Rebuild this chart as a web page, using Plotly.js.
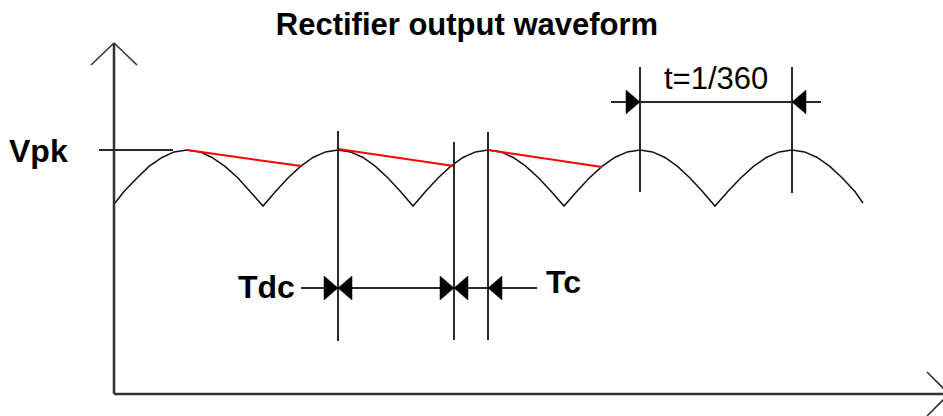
<!DOCTYPE html>
<html>
<head>
<meta charset="utf-8">
<script src="https://cdn.plot.ly/plotly-3.0.1.min.js"></script>
<style>html,body{margin:0;padding:0;background:#fff;}#chart{width:943px;height:416px;}</style>
</head>
<body>
<div id="chart"></div>
<script>
// ---- data (diagram units = reference pixels, y downward) ----
const waveX = [115,124,137,149,162,174,187,
  200,212,225,238,250,263,
  275.5,288,300.5,313,325.5,338,
  350.5,363,375.5,388,400.5,413,
  425.5,438,450.5,463,475.5,488,
  500.7,513.3,526,538.7,551.3,564,
  576.7,589.3,602,614.7,627.3,640,
  652.5,665,677.5,690,702.5,715,
  727.8,740.7,753.5,766.3,779.2,792,
  804.6,817.2,829.8,842.3,854.9,863];
const waveY = [203,191.5,178,166.4,157.5,151.9,150,
  151.9,157.5,166.4,178,191.5,206,
  191.5,178,166.4,157.5,151.9,150,
  151.9,157.5,166.4,178,191.5,206,
  191.5,178,166.4,157.5,151.9,150,
  151.9,157.5,166.4,178,191.5,206,
  191.5,178,166.4,157.5,151.9,150,
  151.9,157.5,166.4,178,191.5,206,
  191.5,178,166.4,157.5,151.9,150,
  151.9,157.5,166.4,178,191.5,203];
// capacitor discharge (red) segments
const rippleX = [187,301,null,338,454,null,488,602];
const rippleY = [150,166,null,149,166,null,150,167];
// vertical marker lines: x, top, bottom
const markerX = [338,454,488,640,792];
const markerTop = [131,142,132,67,67];
const markerBottom = [341,340,340,192,193];
// dimension lines: x0, x1, y
const dimX0 = [301,611];
const dimX1 = [537,821];
const dimY = [288,102];
// arrowheads: tip x, tip y, direction (+1 points right, -1 points left)
const arrowTipX = [338,338,454,454,488,640,792];
const arrowTipY = [288,288,288,288,288,102,102];
const arrowDir = [1,-1,1,-1,-1,1,-1];
// axes
const axisOrigin = [114,394];
const axisTopY = 43;
const axisRightX = 949;
const vpkLevel = 150;
const vpkLineX = [99,173];
// labels
const labelText = ['Vpk','Tdc','Tc','t=1/360'];
const labelX = [38,266,563,716];
const labelY = [151,287,282,78];
const titleText = 'Rectifier output waveform';

// ---- styles ----
const axisColor = '#333333';
const lineColor = '#2a2a2a';
const font = 'Liberation Sans, Arial, sans-serif';

const shapes = [];
function seg(x0,y0,x1,y1,w,c){shapes.push({type:'line',xref:'x',yref:'y',x0:x0,y0:y0,x1:x1,y1:y1,line:{color:c,width:w}});}
// axes with arrows
seg(axisOrigin[0],axisTopY,axisOrigin[0],axisOrigin[1],2.5,axisColor);
seg(axisOrigin[0],axisOrigin[1],axisRightX,axisOrigin[1],2.5,axisColor);
seg(axisOrigin[0]-23,axisTopY+22,axisOrigin[0],axisTopY,1.6,axisColor);
seg(axisOrigin[0]+23,axisTopY+22,axisOrigin[0],axisTopY,1.6,axisColor);
seg(axisRightX-22,axisOrigin[1]-22,axisRightX,axisOrigin[1],1.6,axisColor);
seg(axisRightX-22,axisOrigin[1]+22,axisRightX,axisOrigin[1],1.6,axisColor);
// Vpk level line
seg(vpkLineX[0],vpkLevel,vpkLineX[1],vpkLevel,1.8,lineColor);
// markers
markerX.forEach((x,i)=>seg(x,markerTop[i],x,markerBottom[i],2,lineColor));
// dimension lines
dimY.forEach((y,i)=>seg(dimX0[i],y,dimX1[i],y,1.8,lineColor));
// arrowheads
const aLen = 14, aHalf = 12;
arrowTipX.forEach((x,i)=>{
  const y = arrowTipY[i], d = arrowDir[i];
  const bx = x - d*aLen;
  shapes.push({type:'path',xref:'x',yref:'y',
    path:`M${x},${y} L${bx},${y-aHalf} L${bx},${y+aHalf} Z`,
    fillcolor:'#000',line:{color:'#000',width:0.5}});
});

const annotations = labelText.map((t,i)=>({
  text:t, x:labelX[i], y:labelY[i], xref:'x', yref:'y', showarrow:false,
  xanchor:'center', yanchor:'middle',
  font:{family:font, size: t==='t=1/360'?31:32, color:'#000', weight: t==='t=1/360'?'normal':'bold'}
}));

const traces = [
  {x:waveX, y:waveY, type:'scatter', mode:'lines', line:{color:'#111', width:1.5}, hoverinfo:'skip'},
  {x:rippleX, y:rippleY, type:'scatter', mode:'lines', line:{color:'#ff0000', width:2}, hoverinfo:'skip', connectgaps:false}
];

const layout = {
  width:943, height:416,
  margin:{l:0,r:0,t:0,b:0,pad:0},
  paper_bgcolor:'#fff', plot_bgcolor:'#fff',
  showlegend:false,
  title:{text:titleText, x:0.4952, xanchor:'center', y:1-24/416, yanchor:'middle',
    font:{family:font, size:31, color:'#000', weight:'bold'}},
  xaxis:{range:[0,943], visible:false, fixedrange:true},
  yaxis:{range:[416,0], visible:false, fixedrange:true},
  shapes:shapes,
  annotations:annotations
};
Plotly.newPlot('chart', traces, layout, {displayModeBar:false, staticPlot:true});
</script>
</body>
</html>
